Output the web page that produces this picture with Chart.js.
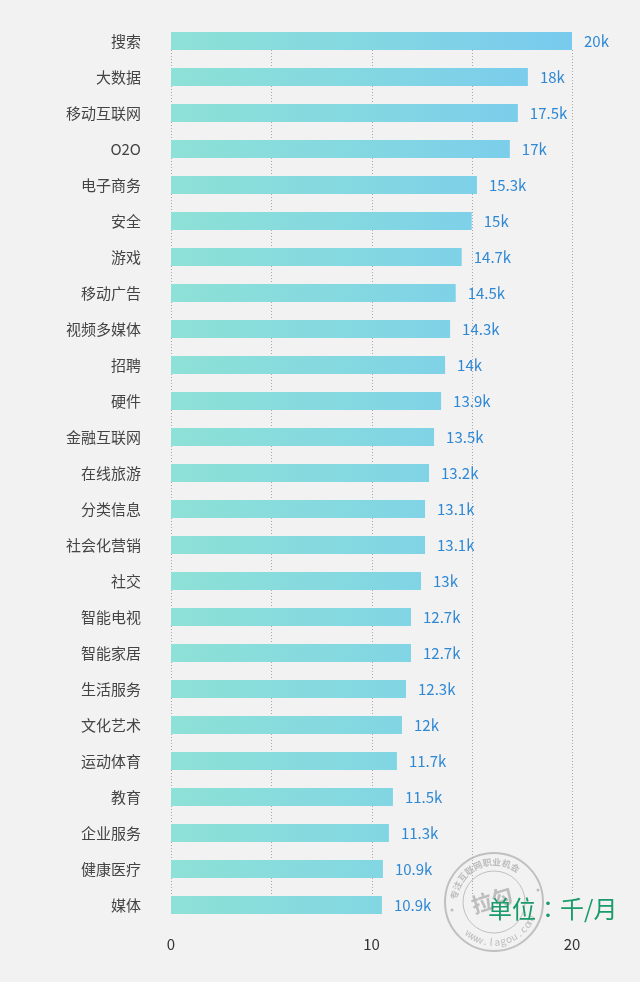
<!DOCTYPE html>
<html>
<head>
<meta charset="utf-8">
<script src="https://cdn.jsdelivr.net/npm/chart.js@4.4.1/dist/chart.umd.min.js"></script>
<style>
  html, body { margin: 0; padding: 0; background: #f2f2f2; }
  #wrap { position: relative; width: 640px; height: 982px; }
  #unit {
    position: absolute; left: 488px; top: 895px;
    font: 24px/26px "Noto Sans CJK SC", sans-serif; color: #1a9b6b;
    white-space: nowrap;
  }
  #unit span { font-family: "Noto Sans CJK JP", sans-serif; }
</style>
</head>
<body>
<div id="wrap">
  <canvas id="c" width="640" height="982"></canvas>
  <div id="unit">单位<span>：</span>千/月</div>
</div>
<script>
// 行业
var industries = ["搜索", "大数据", "移动互联网", "O2O", "电子商务", "安全", "游戏", "移动广告",
    "视频多媒体", "招聘", "硬件", "金融互联网", "在线旅游", "分类信息", "社会化营销", "社交",
    "智能电视", "智能家居", "生活服务", "文化艺术", "运动体育", "教育", "企业服务", "健康医疗", "媒体"];
// 标注的月薪（千）
var salaries = [20, 18, 17.5, 17, 15.3, 15, 14.7, 14.5, 14.3, 14, 13.9, 13.5, 13.2, 13.1, 13.1, 13,
    12.7, 12.7, 12.3, 12, 11.7, 11.5, 11.3, 10.9, 10.9];
// 图中柱子实际长度（按刻度量出）
var barLengths = [20, 17.8, 17.3, 16.9, 15.26, 15, 14.5, 14.2, 13.92, 13.67, 13.47, 13.12, 12.87,
    12.67, 12.67, 12.47, 11.97, 11.97, 11.72, 11.52, 11.27, 11.07, 10.87, 10.57, 10.52];
var xTicks = [0, 10, 20];
var gridValues = [0, 5, 10, 15, 20];

var FONT = '"Noto Sans CJK SC", sans-serif';

// 虚线网格：只画在第一根柱子和最后一根柱子之间
var dottedGrid = {
    id: 'dottedGrid',
    beforeDatasetsDraw: function (chart) {
        var ctx = chart.ctx;
        var bars = chart.getDatasetMeta(0).data;
        if (!bars.length) return;
        var first = bars[0], last = bars[bars.length - 1];
        var y0 = first.y + first.height / 2, y1 = last.y - last.height / 2;
        ctx.save();
        ctx.strokeStyle = '#a8a8a8';
        ctx.lineWidth = 1;
        ctx.setLineDash([1, 2]);
        gridValues.forEach(function (v) {
            var x = Math.round(chart.scales.x.getPixelForValue(v)) + 0.5;
            ctx.beginPath(); ctx.moveTo(x, y0); ctx.lineTo(x, y1); ctx.stroke();
        });
        ctx.restore();
    }
};

var valueLabels = {
    id: 'valueLabels',
    afterDatasetsDraw: function (chart) {
        var ctx = chart.ctx;
        var meta = chart.getDatasetMeta(0);
        ctx.save();
        ctx.font = '15px ' + FONT;
        ctx.fillStyle = '#2f88d4';
        ctx.textAlign = 'left';
        ctx.textBaseline = 'middle';
        meta.data.forEach(function (bar, i) {
            ctx.fillText(salaries[i] + 'k', bar.x + 12, bar.y);
        });
        ctx.restore();
    }
};

// 拉勾水印
var stamp = {
    id: 'stamp',
    afterDraw: function (chart) {
        var ctx = chart.ctx;
        var cx = 494, cy = 902;
        ctx.save();
        ctx.strokeStyle = 'rgba(175,175,175,0.75)';
        ctx.fillStyle = 'rgba(175,175,175,0.8)';
        ctx.lineWidth = 2;
        ctx.beginPath(); ctx.arc(cx, cy, 49, 0, Math.PI * 2); ctx.stroke();
        ctx.lineWidth = 1;
        ctx.beginPath(); ctx.arc(cx, cy, 31, 0, Math.PI * 2); ctx.stroke();
        ctx.textAlign = 'center';
        ctx.textBaseline = 'middle';

        var top = '专注互联网职业机会';
        ctx.font = 'bold 9px ' + FONT;
        for (var i = 0; i < top.length; i++) {
            var a = (-170 + i * 14) * Math.PI / 180;
            ctx.save();
            ctx.translate(cx + 40 * Math.cos(a), cy + 40 * Math.sin(a));
            ctx.rotate(a + Math.PI / 2);
            ctx.fillText(top[i], 0, 0);
            ctx.restore();
        }
        var bottom = 'www.lagou.com';
        ctx.font = '10px ' + FONT;
        for (var j = 0; j < bottom.length; j++) {
            var b = (128 - j * 8.5) * Math.PI / 180;
            ctx.save();
            ctx.translate(cx + 40 * Math.cos(b), cy + 40 * Math.sin(b));
            ctx.rotate(b - Math.PI / 2);
            ctx.fillText(bottom[j], 0, 0);
            ctx.restore();
        }
        [[-42, 8], [44, -12]].forEach(function (d) {
            ctx.beginPath(); ctx.arc(cx + d[0], cy + d[1], 1.5, 0, Math.PI * 2); ctx.fill();
        });
        ctx.font = 'bold 21px ' + FONT;
        ctx.translate(cx - 2, cy - 2);
        ctx.rotate(-0.3);
        ctx.fillText('拉勾', 0, 0);
        ctx.restore();
    }
};

var chart = new Chart(document.getElementById('c'), {
    type: 'bar',
    data: {
        labels: industries,
        datasets: [{
            data: barLengths,
            backgroundColor: function (context) {
                var c = context.chart;
                if (!c.chartArea) return '#84d6e2';
                var g = c.ctx.createLinearGradient(c.chartArea.left, 0, c.chartArea.right, 0);
                g.addColorStop(0, '#8de1d6');
                g.addColorStop(0.5, '#83d7e2');
                g.addColorStop(1, '#78caee');
                return g;
            },
            categoryPercentage: 1,
            barPercentage: 0.5,
            borderWidth: 0
        }]
    },
    options: {
        indexAxis: 'y',
        responsive: false, animation: false,
        layout: { padding: { top: 23, right: 68, left: 0, bottom: 0 } },
        plugins: { legend: { display: false }, tooltip: { enabled: false } },
        scales: {
            x: {
                min: 0, max: 20,
                afterBuildTicks: function (scale) {
                    scale.ticks = xTicks.map(function (v) { return { value: v }; });
                },
                ticks: {
                    color: '#333', font: { family: FONT, size: 15 }, padding: 12,
                    maxRotation: 0, autoSkip: false
                },
                grid: { display: false, drawTicks: false },
                border: { display: false },
                afterFit: function (scale) { scale.height = 59; }
            },
            y: {
                grid: { display: false, drawTicks: false },
                border: { display: false },
                ticks: { color: '#444', font: { family: FONT, size: 15 }, padding: 30, autoSkip: false },
                afterFit: function (scale) {
                    scale.width = 171;
                    scale.paddingTop = 0;
                    scale.paddingBottom = 0;
                }
            }
        }
    },
    plugins: [dottedGrid, valueLabels, stamp]
});
</script>
</body>
</html>
